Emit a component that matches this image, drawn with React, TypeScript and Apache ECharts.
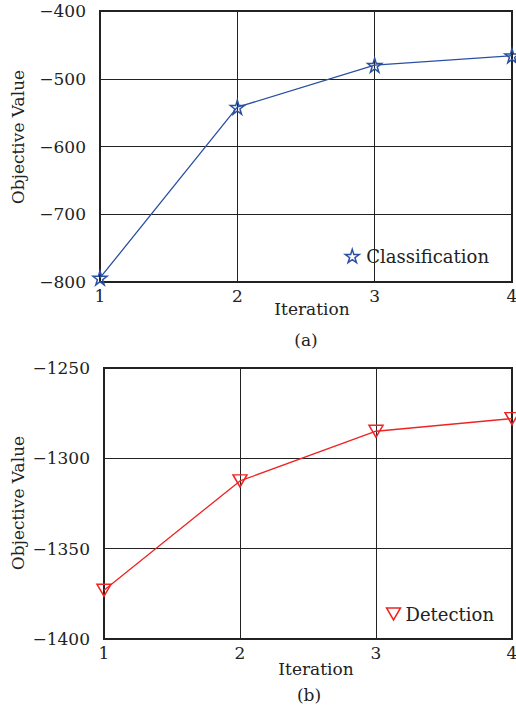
import React, { useEffect, useRef } from "react";
import * as echarts from "echarts";

const iterations = [1, 2, 3, 4];
const classificationValues = [-794, -542, -480, -466];
const detectionValues = [-1373, -1312.5, -1285, -1278];
const xTicks = [1, 2, 3, 4];
const yTicksTop = [-800, -700, -600, -500, -400];
const yTicksBottom = [-1400, -1350, -1300, -1250];

const FONT = "DejaVu Serif";
const TEXT = "#222";
const BLUE = "#2a50a2";
const RED = "#ee2424";
const STAR = "path://M50,0 L61,35 L98,35 L68,57 L79,91 L50,70 L21,91 L32,57 L2,35 L39,35 Z";
const TRI = "path://M0,0 L100,0 L50,86 Z";

const fmt = (v: number) => String(v).replace("-", "\u2212");

export default function App() {
  const ref = useRef<HTMLDivElement>(null);
  useEffect(() => {
    const chart = echarts.init(ref.current!, null, { renderer: "svg" });
    const axisCommon = {
      axisTick: { show: false },
      axisLine: { show: false },
      splitLine: { show: true, lineStyle: { color: "#222", width: 1 } },
      axisLabel: { fontFamily: FONT, fontSize: 17, color: TEXT },
    };
    const xAxis = (gi: number) => ({
      ...axisCommon,
      gridIndex: gi,
      type: "value",
      min: xTicks[0],
      max: xTicks[xTicks.length - 1],
      interval: 1,
      axisLabel: { ...axisCommon.axisLabel, margin: 5 },
    });
    const yAxis = (gi: number, ticks: number[]) => ({
      ...axisCommon,
      gridIndex: gi,
      type: "value",
      min: ticks[0],
      max: ticks[ticks.length - 1],
      interval: ticks[1] - ticks[0],
      axisLabel: { ...axisCommon.axisLabel, margin: 14, formatter: fmt },
    });
    const text = (t: string, x: number, y: number, rot = 0) => ({
      type: "text",
      x,
      y,
      rotation: rot,
      style: {
        text: t,
        fontFamily: FONT,
        fontSize: 17,
        fill: TEXT,
        align: "center",
        verticalAlign: "middle",
      },
    });
    chart.setOption({
      animation: false,
      backgroundColor: "#fff",
      grid: [
        { left: 100, right: 4, top: 11, height: 271, show: true, borderColor: "#222", borderWidth: 2, outerBoundsMode: "none" },
        { left: 104, right: 4, top: 368, height: 271, show: true, borderColor: "#222", borderWidth: 2, outerBoundsMode: "none" },
      ],
      xAxis: [xAxis(0), xAxis(1)],
      yAxis: [yAxis(0, yTicksTop), yAxis(1, yTicksBottom)],
      legend: [
        {
          right: 22,
          top: 242,
          itemWidth: 14,
          itemHeight: 14,
          itemGap: 4,
          textStyle: { fontFamily: FONT, fontSize: 18, color: TEXT, padding: [0, 0, 0, 2] },
          data: [
            {
              name: "Classification",
              icon: STAR,
              itemStyle: { color: "transparent", borderColor: BLUE, borderWidth: 1.5 },
            },
          ],
        },
        {
          right: 17,
          top: 600,
          itemWidth: 14,
          itemHeight: 12,
          textStyle: { fontFamily: FONT, fontSize: 18, color: TEXT },
          data: [
            {
              name: "Detection",
              icon: TRI,
              itemStyle: { color: "transparent", borderColor: RED, borderWidth: 1.5 },
            },
          ],
        },
      ],
      graphic: [
        text("Objective Value", 18, 137, Math.PI / 2),
        text("Iteration", 312, 309),
        text("(a)", 306, 340),
        text("Objective Value", 18, 503, Math.PI / 2),
        text("Iteration", 316, 669),
        text("(b)", 309, 695),
      ],
      series: [
        {
          name: "Classification",
          type: "line",
          xAxisIndex: 0,
          yAxisIndex: 0,
          data: iterations.map((x, i) => [x, classificationValues[i]]),
          symbol: STAR,
          symbolSize: 14,
          lineStyle: { color: BLUE, width: 1.3 },
          itemStyle: { color: "transparent", borderColor: BLUE, borderWidth: 1.5 },
        },
        {
          name: "Detection",
          type: "line",
          xAxisIndex: 1,
          yAxisIndex: 1,
          data: iterations.map((x, i) => [x, detectionValues[i]]),
          symbol: TRI,
          symbolSize: [14, 12],
          lineStyle: { color: RED, width: 1.3 },
          itemStyle: { color: "transparent", borderColor: RED, borderWidth: 1.5 },
        },
      ],
    });
    return () => chart.dispose();
  }, []);
  return <div ref={ref} style={{ position: "fixed", left: 0, top: 0, width: 516, height: 711 }} />;
}
